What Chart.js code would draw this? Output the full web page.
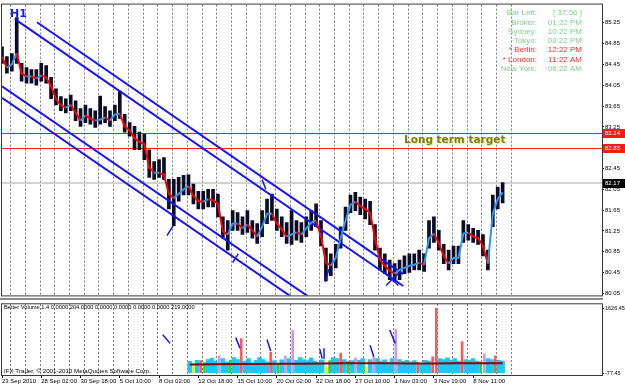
<!DOCTYPE html>
<html lang="en">
<head>
  <meta charset="UTF-8" />
  <title>USDJPY H1</title>
  <script src="https://cdn.jsdelivr.net/npm/chart.js"></script>
  <style>
    body { margin: 0; background: #fff; }
    .wrap { position: relative; width: 625px; height: 387px; overflow: hidden; }
    .pane { position: absolute; left: 0; width: 625px; }
    #mainPane { top: 0; height: 300px; }
    #volPane { top: 300px; height: 87px; }
    #sep { position: absolute; left: 0; top: 298px; width: 603px; height: 2px; background: #8c8c8c; }
  </style>
</head>
<body>
<div class="wrap">
  <div class="pane" id="mainPane"><canvas id="main"></canvas></div>
  <div class="pane" id="volPane"><canvas id="vol"></canvas></div>
  <div id="sep"></div>
</div>

<script>
  // ---- price window (H1 bars, one sample every 8 bars) ----
  const ma = [84.60,84.39,84.45,84.66,84.28,84.22,84.22,84.18,84.24,84.20,
    84.03,83.79,83.66,83.62,83.67,83.52,83.37,83.47,83.41,83.37,
    83.39,83.43,83.37,83.49,83.50,83.26,83.18,83.03,82.96,82.92,
    82.47,82.37,82.37,82.33,81.96,81.88,81.96,82.05,82.11,81.92,
    81.82,81.81,81.86,81.84,81.77,81.24,81.18,81.39,81.39,81.30,
    81.37,81.26,81.14,81.33,81.58,81.58,81.39,81.28,81.14,81.18,
    81.22,81.18,81.30,81.41,81.45,81.14,80.64,80.58,80.73,81.11,
    81.45,81.75,81.81,81.73,81.67,81.60,81.11,80.69,80.58,80.48,
    80.43,80.50,80.54,80.58,80.60,80.64,80.60,81.11,81.20,81.01,
    80.77,80.62,80.73,80.73,81.20,81.22,81.14,81.11,80.96,80.62,
    81.58,81.86,81.99];
  const hi = [84.79,84.60,84.66,85.35,84.47,84.39,84.35,84.35,84.47,84.43,
    84.20,83.98,83.83,83.79,83.86,83.75,83.60,83.67,83.60,83.56,
    83.84,83.64,83.56,83.67,83.94,83.49,83.33,83.26,83.15,83.11,
    82.81,82.58,82.62,82.66,82.24,82.24,82.28,82.32,82.33,82.15,
    82.01,82.01,82.05,82.05,81.96,81.52,81.45,81.64,81.60,81.52,
    81.64,81.45,81.39,81.64,81.86,81.96,81.67,81.52,81.41,81.64,
    81.45,81.41,81.52,81.64,81.77,81.45,80.92,80.81,80.99,81.33,
    81.71,81.94,81.99,81.90,81.86,81.82,81.37,80.92,80.81,80.69,
    80.62,80.69,80.77,80.81,80.81,80.88,80.81,81.45,81.52,81.26,
    80.99,80.88,80.96,80.96,81.45,81.37,81.30,81.26,81.18,80.88,
    81.94,82.09,82.18];
  const lo = [84.47,84.28,84.32,84.47,84.13,84.09,84.09,84.05,84.13,84.09,
    83.79,83.67,83.56,83.52,83.56,83.37,83.26,83.33,83.30,83.24,
    83.30,83.33,83.26,83.37,83.41,83.15,83.07,82.81,82.81,82.62,
    82.28,82.24,82.28,82.24,81.67,81.35,81.82,81.94,81.94,81.77,
    81.67,81.67,81.71,81.71,81.52,81.11,80.88,81.26,81.26,81.18,
    81.22,81.11,81.01,81.14,81.39,81.45,81.26,81.14,81.01,80.99,
    81.07,81.03,81.14,81.26,81.33,80.96,80.29,80.39,80.54,80.92,
    81.26,81.60,81.64,81.56,81.48,81.37,80.88,80.50,80.43,80.31,
    80.28,80.31,80.43,80.45,80.50,80.50,80.47,80.92,81.03,80.88,
    80.62,80.50,80.62,80.62,81.03,81.07,81.03,80.99,80.77,80.50,
    81.33,81.67,81.79];
  const bars = ma.map((_, i) => i * 8);

  const priceTicks = [85.25,84.85,84.45,84.05,83.65,83.25,82.85,82.45,82.05,81.65,81.25,80.85,80.45,80.05];
  const targets = [83.14, 82.85];
  const bid = 82.17;

  // trend channel lines [bar, price]
  const chanA = [[21, 85.32], [654, 80.19]];
  const chanB = [[57, 85.26], [654, 80.42]];
  const chanC = [[0, 84.03], [520, 79.82]];
  const chanD = [[0, 83.81], [520, 79.59]];
  const marksMain = [
    [[269, 81.16], [279, 81.35]],
    [[376, 80.64], [385, 80.81]],
    [[424, 82.24], [430, 82.05]],
    [[518, 81.11], [523, 81.22]],
    [[527, 80.27], [533, 80.52]],
    [[626, 80.43], [646, 80.20]],
    [[626, 80.20], [646, 80.43]]
  ];

  const clockLabels = ['Bar Left:', 'Broker:', 'Sydney:', 'Tokyo:', '* Berlin:', '* London:', 'New York:'];
  const clockValues = ['[ 37:56 ]', '01:22 PM', '10:22 PM', '08:22 PM', '12:22 PM', '11:22 AM', '06:22 AM'];
  const clockOpen = [false, false, false, false, true, true, false];

  // ---- Better Volume window (one sample every 6 bars from bar 306) ----
  const vol = [230,120,260,250,200,280,310,240,376,300,
    220,260,330,280,827,240,300,200,260,330,
    280,220,476,250,180,270,376,300,1052,260,
    330,280,250,320,240,200,270,90,250,330,
    300,450,280,230,250,325,260,300,80,280,
    350,300,240,270,200,300,1078,280,230,260,
    220,250,200,180,260,240,350,1629,300,280,
    320,260,300,240,752,280,260,300,240,220,
    426,300,280,376,260,240];
  const volType = ('cycrgcccmc' + 'cgccrccccc' + 'ccrcgcmcmc' + 'cccccccygc' + 'crcgcmccyc' +
    'mcccccmccc' + 'ccrcccrrcc' + 'ccccrccccg' + 'mccrcc').split('');
  const volBars = vol.map((_, j) => 306 + j * 6);
  const avgBars = [306, 342, 378, 414, 450, 486, 522, 558, 594, 630, 666, 702, 738, 774, 816];
  const volAvg = [150, 155, 160, 160, 165, 170, 175, 180, 180, 178, 176, 175, 178, 180, 182];
  const volTicks = [1626.45, -77.45];
  const marksVol = [
    [[262, 927], [274, 702]],
    [[381, 852], [388, 576]],
    [[432, 802], [438, 501]],
    [[518, 551], [522, 301]],
    [[525, 576], [525, 301]],
    [[600, 652], [606, 351]],
    [[632, 1052], [641, 702]]
  ];

  const timeLabels = ['23 Sep 2010', '28 Sep 02:00', '30 Sep 18:00', '5 Oct 10:00', '8 Oct 02:00',
    '12 Oct 18:00', '15 Oct 10:00', '20 Oct 02:00', '22 Oct 18:00', '27 Oct 10:00',
    '1 Nov 03:00', '3 Nov 19:00', '8 Nov 11:00'];
  const labelBars = timeLabels.map((_, i) => i * 64);
  const gridBars = Array.from({ length: 35 }, (_, k) => 14 + 24 * k);

  const BAR_MAX = 978;
  const volColors = { c: '#1ec8f5', r: '#ff5a5a', m: '#c99ce2', g: '#33cc33', y: '#f5f500' };

  Chart.defaults.font.family = '"Liberation Sans", Arial, sans-serif';
  Chart.defaults.color = '#000';

  const toXY = pts => pts.map(p => ({ x: p[0], y: p[1] }));
  const segDataset = (pts, w) => ({
    type: 'line', data: toXY(pts), borderColor: '#1414ff', borderWidth: w,
    pointRadius: 0, order: 2
  });

  const gridAxis = pos => ({
    type: 'linear', position: pos, min: 0, max: BAR_MAX, offset: false,
    afterBuildTicks: s => { s.ticks = gridBars.map(v => ({ value: v })); },
    afterFit: s => { s.height = 0; },
    ticks: { display: false },
    grid: { color: '#7c7c7c', lineWidth: 1, drawTicks: false, offset: false },
    border: { display: false, dash: [2, 2] }
  });

  const rightAxis = (min, max, ticks, size) => ({
    position: 'right', min, max, beginAtZero: false,
    afterBuildTicks: s => { s.ticks = ticks.map(v => ({ value: v })); },
    afterFit: s => { s.width = 23; },
    ticks: { font: { size }, color: '#000', padding: 1, autoSkip: false,
             callback: v => v.toFixed(2) },
    grid: { drawOnChartArea: false, tickLength: 2, tickColor: '#000' },
    border: { color: '#000' }
  });

  const frame = (ctx, a) => {
    ctx.save();
    ctx.strokeStyle = '#3a3a3a';
    ctx.lineWidth = 1;
    ctx.strokeRect(a.left - 0.5, a.top - 0.5, a.right - a.left + 1, a.bottom - a.top + 1);
    ctx.restore();
  };

  const tag = (ctx, y, text, bg) => {
    ctx.fillStyle = bg;
    ctx.fillRect(603, Math.round(y) - 4, 22, 9);
    ctx.fillStyle = '#fff';
    ctx.font = '6px "Liberation Sans"';
    ctx.textAlign = 'left';
    ctx.textBaseline = 'middle';
    ctx.fillText(text, 605, Math.round(y) + 0.5);
  };

  const mainOverlay = {
    id: 'mainOverlay',
    beforeDatasetsDraw(chart) {
      const { ctx, chartArea: a, scales: { y } } = chart;
      ctx.save();
      ctx.lineWidth = 2;
      ctx.strokeStyle = '#d2d2d2';
      const py = Math.round(y.getPixelForValue(bid));
      ctx.beginPath(); ctx.moveTo(a.left, py); ctx.lineTo(a.right, py); ctx.stroke();
      ctx.lineWidth = 1;
      ctx.strokeStyle = '#ff2020';
      targets.forEach(v => {
        const p = Math.round(y.getPixelForValue(v)) + 0.5;
        ctx.beginPath(); ctx.moveTo(a.left, p); ctx.lineTo(a.right, p); ctx.stroke();
      });
      ctx.restore();
    },
    afterDraw(chart) {
      const { ctx, chartArea: a, scales: { y } } = chart;
      frame(ctx, a);
      ctx.save();
      targets.forEach(v => tag(ctx, y.getPixelForValue(v), v.toFixed(2), '#ff1a1a'));
      tag(ctx, y.getPixelForValue(bid), bid.toFixed(2), '#000');

      // timeframe
      ctx.font = 'bold 11px "DejaVu Sans"';
      ctx.fillStyle = '#1a1aff';
      ctx.textAlign = 'left';
      ctx.textBaseline = 'middle';
      ctx.fillText('H1', 10, 14);

      // target note
      const ty = y.getPixelForValue((targets[0] + targets[1]) / 2);
      ctx.font = 'bold 10.5px "DejaVu Sans"';
      ctx.fillStyle = '#ecec9a';
      ctx.fillText('Long term target', 405, ty + 1);
      ctx.fillStyle = '#7e7e18';
      ctx.fillText('Long term target', 404, ty);

      // session clock
      ctx.font = '8px "Liberation Sans"';
      clockLabels.forEach((t, i) => {
        const cy = 13 + i * 9.3;
        ctx.fillStyle = clockOpen[i] ? '#ff2a2a' : '#84d090';
        ctx.textAlign = 'right';
        ctx.fillText(t, 537, cy);
        ctx.fillText(clockValues[i], 582, cy);
      });
      ctx.restore();
    }
  };

  new Chart(document.getElementById('main'), {
    type: 'bar',
    data: {
      datasets: [
        {
          type: 'bar',
          data: bars.map((b, i) => ({ x: b, y: [lo[i], hi[i]] })),
          backgroundColor: '#0c0c26',
          borderWidth: 0,
          barThickness: 3,
          order: 3
        },
        segDataset(chanA, 2), segDataset(chanB, 2), segDataset(chanC, 2), segDataset(chanD, 2),
        ...marksMain.map(m => segDataset(m, 1.5)),
        {
          type: 'line',
          data: bars.map((b, i) => ({ x: b, y: ma[i] })),
          borderWidth: 2,
          borderColor: '#ff0000',
          pointRadius: 0,
          tension: 0,
          order: 1,
          segment: {
            borderColor: c => c.p1.parsed.y < c.p0.parsed.y ? '#ff0000' : '#2f96f0'
          }
        }
      ]
    },
    options: {
      animation: false,
      responsive: true,
      maintainAspectRatio: false,
      layout: { padding: { left: 2, top: 2, right: 0, bottom: 2 } },
      plugins: { legend: { display: false }, tooltip: { enabled: false } },
      scales: {
        x: gridAxis('bottom'),
        y: rightAxis(80.01, 85.60, priceTicks, 6)
      }
    },
    plugins: [mainOverlay]
  });

  const volOverlay = {
    id: 'volOverlay',
    afterDraw(chart) {
      const { ctx, chartArea: a } = chart;
      frame(ctx, a);
      ctx.save();
      ctx.fillStyle = '#000';
      ctx.textAlign = 'left';
      ctx.textBaseline = 'middle';
      ctx.font = '5.7px "Liberation Sans"';
      ctx.fillText('Better Volume 1.4 0.0000 204.0000 0.0000 0.0000 0.0000 0.0000 219.0000', 4, 7);
      ctx.font = '6.2px "Liberation Sans"';
      ctx.fillText('IFX Trader, \u00a9 2001-2010 MetaQuotes Software Corp.', 4, 71);
      ctx.restore();
    }
  };

  new Chart(document.getElementById('vol'), {
    type: 'bar',
    data: {
      datasets: [
        {
          // ordinary volume (blue) – wide to fill the band
          type: 'bar',
          data: volBars.map((b, j) => ({ x: b, y: volType[j] === 'c' ? vol[j] : null })),
          backgroundColor: volColors.c,
          borderWidth: 0,
          barThickness: 4,
          grouped: false,
          base: volTicks[1],
          order: 4
        },
        {
          // signal bars (climax, churn, low) – thin spikes
          type: 'bar',
          data: volBars.map((b, j) => ({ x: b, y: volType[j] !== 'c' ? vol[j] : null })),
          backgroundColor: volType.map(t => volColors[t]),
          borderWidth: 0,
          barThickness: 2,
          grouped: false,
          base: volTicks[1],
          order: 3
        },
        {
          type: 'line',
          data: avgBars.map((b, j) => ({ x: b, y: volAvg[j] })),
          borderColor: '#8b0000',
          borderWidth: 2,
          pointRadius: 0,
          order: 1
        },
        ...marksVol.map(m => segDataset(m, 1.5))
      ]
    },
    options: {
      animation: false,
      responsive: true,
      maintainAspectRatio: false,
      layout: { padding: { left: 2, top: 1, right: 0, bottom: 0 } },
      plugins: { legend: { display: false }, tooltip: { enabled: false } },
      scales: {
        x: gridAxis('top'),
        x2: {
          type: 'linear', position: 'bottom', min: 0, max: BAR_MAX, offset: false,
          afterBuildTicks: s => { s.ticks = labelBars.map(v => ({ value: v })); },
          afterFit: s => { s.height = 12; },
          ticks: { font: { size: 6 }, color: '#000', align: 'start', maxRotation: 0,
                   autoSkip: false, padding: 0, callback: (v, i) => timeLabels[i] },
          grid: { drawOnChartArea: false, tickLength: 3, tickColor: '#000', offset: false },
          border: { display: false }
        },
        y: rightAxis(-127.6, 1726.7, volTicks, 5.5)
      }
    },
    plugins: [volOverlay]
  });
</script>
</body>
</html>
